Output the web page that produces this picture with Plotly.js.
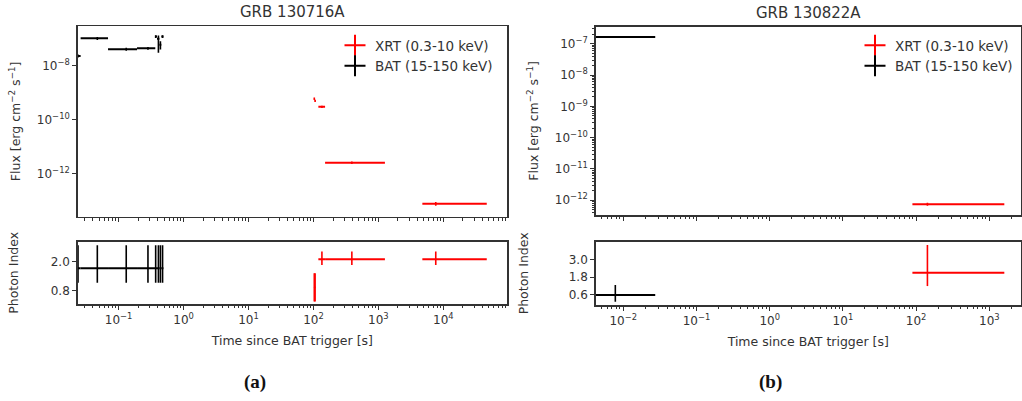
<!DOCTYPE html>
<html>
<head>
<meta charset="utf-8">
<script src="https://cdn.plot.ly/plotly-3.0.1.min.js"></script>
<style>html,body{margin:0;padding:0;background:#fff;}#chart{width:1022px;height:401px;}</style>
</head>
<body>
<div id="chart"></div>
<script>
// ---------- GRB 130716A (panel a) ----------
// BAT (15-150 keV)
const a_bat_t      = [0.0237, 0.047, 0.131, 0.283, 0.372, 0.41, 0.44, 0.475];
const a_bat_tLo    = [0.0232, 0.026, 0.0687, 0.192, 0.367, 0.39, 0.425, 0.455];
const a_bat_tHi    = [0.026, 0.0687, 0.192, 0.367, 0.39, 0.425, 0.455, 0.49];
const a_bat_flux   = [2.3e-8, 1.03e-7, 4.1e-8, 4.4e-8, 1.2e-7, 1.0e-7, 6.0e-8, 1.2e-7];
const a_bat_fluxLo = [2.0e-8, 0.90e-7, 3.6e-8, 3.9e-8, 1.05e-7, 3.0e-8, 4.0e-8, 1.05e-7];
const a_bat_fluxHi = [2.6e-8, 1.16e-7, 4.6e-8, 4.9e-8, 1.35e-7, 1.3e-7, 8.0e-8, 1.35e-7];
const a_bat_idx    = [1.74, 1.74, 1.74, 1.74, 1.74, 1.74, 1.74, 1.74];
const a_bat_idxLo  = [1.14, 1.14, 1.14, 1.14, 1.14, 1.14, 1.14, 1.14];
const a_bat_idxHi  = [2.69, 2.69, 2.69, 2.69, 2.69, 2.69, 2.69, 2.69];
// XRT (0.3-10 keV)
const a_xrt_t      = [103, 106, 135, 390, 7640];
const a_xrt_tLo    = [102.5, 105.5, 119, 151, 4750];
const a_xrt_tHi    = [103.5, 106.5, 151, 1260, 46600];
const a_xrt_flux   = [6.0e-10, 5.0e-10, 3.0e-10, 2.57e-12, 7.76e-14];
const a_xrt_fluxLo = [5.4e-10, 4.5e-10, 2.7e-10, 2.3e-12, 6.6e-14];
const a_xrt_fluxHi = [6.6e-10, 5.5e-10, 3.3e-10, 2.85e-12, 9.0e-14];
const a_xrt_idx    = [0.95, 0.95, 2.11, 2.11, 2.11];
const a_xrt_idxLo  = [0.36, 0.36, 1.88, 1.88, 1.88];
const a_xrt_idxHi  = [1.53, 1.53, 2.43, 2.43, 2.43];

// ---------- GRB 130822A (panel b) ----------
const b_bat_t      = [0.00778];
const b_bat_tLo    = [0.0035];
const b_bat_tHi    = [0.0273];
const b_bat_flux   = [1.64e-7];
const b_bat_fluxLo = [1.55e-7];
const b_bat_fluxHi = [1.73e-7];
const b_bat_idx    = [0.6];
const b_bat_idxLo  = [0.15];
const b_bat_idxHi  = [1.28];
const b_xrt_t      = [142.7];
const b_xrt_tLo    = [89];
const b_xrt_tHi    = [1603];
const b_xrt_flux   = [7.45e-13];
const b_xrt_fluxLo = [6.7e-13];
const b_xrt_fluxHi = [8.3e-13];
const b_xrt_idx    = [2.09];
const b_xrt_idxLo  = [1.2];
const b_xrt_idxHi  = [3.97];

// tick labels
const a_xExp = [-1, 0, 1, 2, 3, 4];
const b_xExp = [-2, -1, 0, 1, 2, 3];
const a_yExp = [-8, -10, -12];
const b_yExp = [-7, -8, -9, -10, -11, -12];
const a_idxTicks = [0.8, 2.0];
const b_idxTicks = [0.6, 1.8, 3.0];

const RED = '#ff0000', BLACK = '#000000', TXT = '#333333', AX = '#333333';
const FONT = 'DejaVu Sans';

function sup(e){ return '10<sup>' + (e < 0 ? '\u2212' + (-e) : e) + '</sup>'; }
function minors(d0, d1){ const v=[]; for(let d=d0; d<=d1; d++){ for(let k=2;k<=9;k++) v.push(k*Math.pow(10,d)); } return v; }
function diff(a,b){ return a.map((v,i)=>v-b[i]); }

function errTrace(t, tLo, tHi, y, yLo, yHi, color, xa, ya){
  return {
    type:'scatter', mode:'markers', x:t, y:y, xaxis:xa, yaxis:ya, showlegend:false, hoverinfo:'skip',
    marker:{size:1, color:color},
    error_x:{type:'data', symmetric:false, array:diff(tHi,t), arrayminus:diff(t,tLo), color:color, thickness:2, width:0},
    error_y:{type:'data', symmetric:false, array:diff(yHi,y), arrayminus:diff(y,yLo), color:color, thickness:1.6, width:0}
  };
}
function legTrace(name, color, xa, ya, leg){
  return {type:'scatter', mode:'markers', x:[null], y:[null], xaxis:xa, yaxis:ya, name:name, legend:leg,
    marker:{symbol:'cross-thin', size:15, color:color, line:{color:color, width:2}}};
}

const traces = [
  errTrace(a_bat_t,a_bat_tLo,a_bat_tHi,a_bat_flux,a_bat_fluxLo,a_bat_fluxHi,BLACK,'x','y'),
  errTrace(a_xrt_t,a_xrt_tLo,a_xrt_tHi,a_xrt_flux,a_xrt_fluxLo,a_xrt_fluxHi,RED,'x','y'),
  errTrace(a_bat_t,a_bat_tLo,a_bat_tHi,a_bat_idx,a_bat_idxLo,a_bat_idxHi,BLACK,'x2','y2'),
  errTrace(a_xrt_t,a_xrt_tLo,a_xrt_tHi,a_xrt_idx,a_xrt_idxLo,a_xrt_idxHi,RED,'x2','y2'),
  errTrace(b_bat_t,b_bat_tLo,b_bat_tHi,b_bat_flux,b_bat_fluxLo,b_bat_fluxHi,BLACK,'x3','y3'),
  errTrace(b_xrt_t,b_xrt_tLo,b_xrt_tHi,b_xrt_flux,b_xrt_fluxLo,b_xrt_fluxHi,RED,'x3','y3'),
  errTrace(b_bat_t,b_bat_tLo,b_bat_tHi,b_bat_idx,b_bat_idxLo,b_bat_idxHi,BLACK,'x4','y4'),
  errTrace(b_xrt_t,b_xrt_tLo,b_xrt_tHi,b_xrt_idx,b_xrt_idxLo,b_xrt_idxHi,RED,'x4','y4'),
  legTrace('XRT (0.3-10 keV)', RED, 'x','y','legend'),
  legTrace('BAT (15-150 keV)', BLACK, 'x','y','legend'),
  legTrace('XRT (0.3-10 keV)', RED, 'x3','y3','legend2'),
  legTrace('BAT (15-150 keV)', BLACK, 'x3','y3','legend2')
];

const W = 1022, H = 401;
const px = v => v / W, py = v => 1 - v / H;
const TICKSIZE = 12, TITLESIZE = 12.5;

function baseAxis(extra){
  return Object.assign({
    showline:true, mirror:true, linecolor:AX, linewidth:1.5, showgrid:false, zeroline:false,
    ticks:'outside', ticklen:4, tickwidth:1, tickcolor:AX,
    tickfont:{family:FONT, size:TICKSIZE, color:TXT}, fixedrange:true
  }, extra);
}
function logX(domain, range, exps, anchor, labels){
  const ax = baseAxis({type:'log', domain:domain, range:range, anchor:anchor,
    tickmode:'array', tickvals:exps.map(e=>Math.pow(10,e)), ticktext:exps.map(sup), showticklabels:labels,
    minor:{ticks:'outside', ticklen:2.5, tickwidth:1, tickcolor:AX, tickmode:'array', tickvals:minors(exps[0]-2, exps[exps.length-1]+1)}});
  if (labels) ax.title = {text:'Time since BAT trigger [s]', font:{family:FONT, size:TITLESIZE, color:TXT}, standoff:10};
  return ax;
}

const layout = {
  width:W, height:H, margin:{l:0, r:0, t:0, b:0}, paper_bgcolor:'#fff', plot_bgcolor:'#fff',
  font:{family:FONT, color:TXT},
  xaxis:  logX([px(77.7), px(507)], [-1.63, 4.98], a_xExp, 'y', false),
  xaxis2: logX([px(77.7), px(507)], [-1.63, 4.98], a_xExp, 'y2', true),
  xaxis3: logX([px(595.7), px(1020.8)], [-2.377, 3.43], b_xExp, 'y3', false),
  xaxis4: logX([px(595.7), px(1020.8)], [-2.377, 3.43], b_xExp, 'y4', true),
  yaxis: baseAxis({type:'log', domain:[py(216.7), py(26)], range:[-13.59, -6.53], anchor:'x',
    tickmode:'array', tickvals:a_yExp.map(e=>Math.pow(10,e)), ticktext:a_yExp.map(sup),
    title:{text:'Flux [erg cm<sup>\u22122</sup> s<sup>\u22121</sup>]', font:{family:FONT, size:TITLESIZE, color:TXT}, standoff:13}}),
  yaxis2: baseAxis({domain:[py(304), py(241.7)], range:[0.26, 2.84], anchor:'x2',
    tickmode:'array', tickvals:a_idxTicks, ticktext:a_idxTicks.map(v=>v.toFixed(1)),
    title:{text:'Photon Index', font:{family:FONT, size:TITLESIZE, color:TXT}, standoff:29}}),
  yaxis3: baseAxis({type:'log', domain:[py(215), py(26.7)], range:[-12.47, -6.457], anchor:'x3',
    tickmode:'array', tickvals:b_yExp.map(e=>Math.pow(10,e)), ticktext:b_yExp.map(sup),
    minor:{ticks:'outside', ticklen:2.5, tickwidth:1, tickcolor:AX, tickmode:'array', tickvals:minors(-13, -7)},
    title:{text:'Flux [erg cm<sup>\u22122</sup> s<sup>\u22121</sup>]', font:{family:FONT, size:TITLESIZE, color:TXT}, standoff:13}}),
  yaxis4: baseAxis({domain:[py(305), py(241.7)], range:[-0.076, 4.19], anchor:'x4',
    tickmode:'array', tickvals:b_idxTicks, ticktext:b_idxTicks.map(v=>v.toFixed(1)),
    title:{text:'Photon Index', font:{family:FONT, size:TITLESIZE, color:TXT}, standoff:37}}),
  legend:{x:px(335), y:py(30), xanchor:'left', yanchor:'top', bgcolor:'rgba(0,0,0,0)', borderwidth:0,
    font:{family:FONT, size:13.5, color:TXT}, traceorder:'normal', itemclick:false},
  legend2:{x:px(855), y:py(30), xanchor:'left', yanchor:'top', bgcolor:'rgba(0,0,0,0)', borderwidth:0,
    font:{family:FONT, size:13.5, color:TXT}, traceorder:'normal', itemclick:false},
  annotations:[
    {xref:'x domain', yref:'y domain', x:0.5, y:1, yanchor:'bottom', yshift:3, showarrow:false,
     text:'GRB 130716A', font:{family:FONT, size:15, color:TXT}},
    {xref:'x3 domain', yref:'y3 domain', x:0.5, y:1, yanchor:'bottom', yshift:3, showarrow:false,
     text:'GRB 130822A', font:{family:FONT, size:15, color:TXT}},
    {xref:'paper', yref:'paper', x:px(255), y:py(382), xanchor:'center', yanchor:'middle', showarrow:false,
     text:'<b>(a)</b>', font:{family:'Liberation Serif', size:19, color:'#111'}},
    {xref:'paper', yref:'paper', x:px(770), y:py(382), xanchor:'center', yanchor:'middle', showarrow:false,
     text:'<b>(b)</b>', font:{family:'Liberation Serif', size:19, color:'#111'}}
  ]
};

Plotly.newPlot('chart', traces, layout, {staticPlot:true, displayModeBar:false});
</script>
</body>
</html>
